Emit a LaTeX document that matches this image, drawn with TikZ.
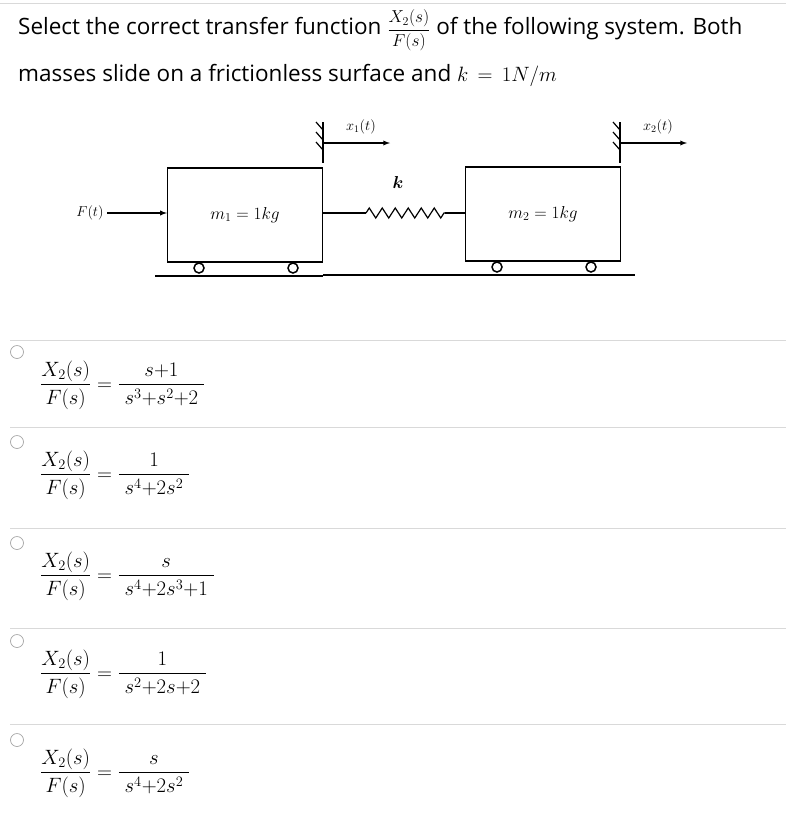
\documentclass[tikz,border=0pt]{standalone}
\usepackage{amsmath}
\usepackage{fontspec}
\setmainfont{Open Sans}
\usetikzlibrary{decorations.pathmorphing}
\tikzset{
  sep/.style={gray!30, line width=0.8pt},
  radio/.style={circle, draw=gray!70, line width=0.7pt, minimum size=13pt, inner sep=0pt},
  mass/.style={draw, line width=1.2pt, minimum width=155pt, minimum height=94pt},
  wheel/.style={circle, draw, line width=1.5pt, minimum size=10pt, inner sep=0pt},
  answer/.style={font=\fontsize{20}{24}\selectfont, anchor=west, inner sep=0pt},
  qtext/.style={anchor=west, inner sep=0pt, font=\fontsize{22.5}{26}\selectfont}
}
\begin{document}
\begin{tikzpicture}[x=1pt, y=-1pt]
  \useasboundingbox (0,0) rectangle (786,820);
  \draw[sep] (0,3) -- (786,3);
  % question
  \node[qtext] (q1) at (18,30)
    {Select the correct transfer function \mbox{\fontsize{17}{20}\selectfont$\dfrac{X_2(s)}{F(s)}$} of the following system. Both};
  \node[qtext] (q2) at (18,75)
    {masses slide on a frictionless surface and $k\,=\,1N/m$};

  % masses
  \node[mass, font=\fontsize{17}{20}\selectfont] (m1) at (245,215) {$m_1 = 1kg$};
  \node[mass, font=\fontsize{17}{20}\selectfont] (m2) at (543,214) {$m_2 = 1kg$};
  \draw[line width=1.5pt] (155,276) -- (323,276);
  \draw[line width=1.5pt] (323,275) -- (635,275);
  \foreach \x/\y in {199/268, 293/268, 497/267, 591/267}
    \node[wheel] (w\x) at (\x,\y) {};

  % force
  \node[font=\fontsize{15}{18}\selectfont] (F) at (90,213) {$F(t)$};
  \draw[line width=1.3pt, -latex] (F.east) -- (m1.west |- F);

  % spring
  \coordinate (s1) at (366,213);
  \coordinate (s2) at (445,213);
  \draw[line width=1.2pt] (m1.east |- s1) -- (s1);
  \draw[line width=1.2pt, decorate, decoration={zigzag, segment length=13pt, amplitude=5pt}] (s1) -- (s2);
  \draw[line width=1.2pt] (s2) -- (m2.west |- s2);
  \node[font=\fontsize{19}{22}\selectfont] (k) at (398,182) {$\boldsymbol{k}$};

  % displacements
  \foreach \name/\x/\lab in {a/323/x_1(t), b/620/x_2(t)} {
    \draw[line width=1.3pt] (\x,122) coordinate (\name top) -- (\x,163);
    \foreach \h in {122,132,142}
      \draw[line width=1.2pt] (\x,\h+8) -- (\x-7,\h);
    \coordinate (\name end) at (\x+67,143);
    \draw[line width=1.3pt, -latex] (\x,143) -- (\name end);
    \node[font=\fontsize{14}{17}\selectfont] (\name lab) at (\x+38,127) {$\lab$};
  }

  % answers
  \foreach \y in {340,427,528,628,724}
    \draw[sep] (10,\y) -- (786,\y);
  \foreach \i/\y/\num/\den in {
      1/385/s{+}1/s^3{+}s^2{+}2,
      2/475/1/s^4{+}2s^2,
      3/576/s/s^4{+}2s^3{+}1,
      4/674/1/s^2{+}2s{+}2,
      5/773/s/s^4{+}2s^2} {
    \node[radio] (r\i) at (17,\y-33) {};
    \node[answer] (a\i) at (40,\y)
      {$\dfrac{X_2(s)}{F(s)} = \dfrac{\;\num\;}{\;\den\;}$};
  }
\end{tikzpicture}
\end{document}
